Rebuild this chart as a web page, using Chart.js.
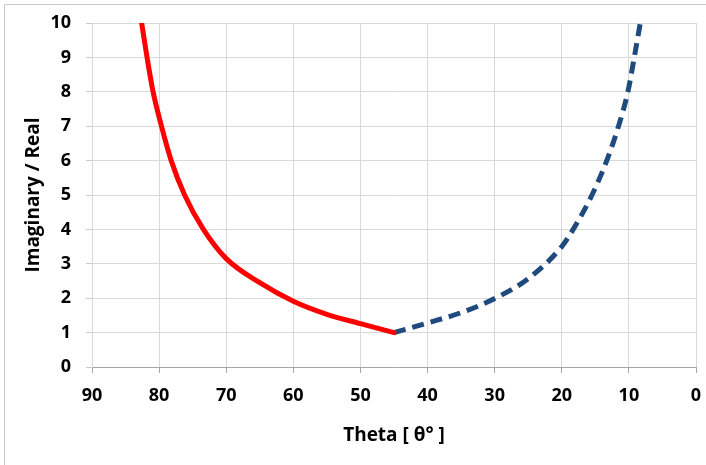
<!DOCTYPE html>
<html>
<head>
<meta charset="utf-8">
<script src="https://cdn.jsdelivr.net/npm/chart.js@4.4.1/dist/chart.umd.min.js"></script>
<style>
  html, body { margin: 0; padding: 0; background: #ffffff; }
  #wrap { width: 706px; height: 465px; position: relative; }
</style>
</head>
<body>
<div id="wrap"><canvas id="c" width="706" height="465"></canvas></div>
<script>
// Theta (degrees) and Imaginary/Real ratio
const redTheta  = [82.6, 81.8, 80.9, 79.65, 78.2, 76.2, 73.4, 70, 65, 60, 55, 50, 45];
const redRatio  = [10, 9, 8, 7, 6, 5, 4, 3.15, 2.45, 1.91, 1.53, 1.26, 1.0];
const blueTheta = [45, 40, 35, 30, 25, 20, 18.3, 15.5, 13.3, 11.55, 10.15, 9.2, 8.3];
const blueRatio = [1.0, 1.28, 1.58, 1.99, 2.57, 3.5, 4, 5, 6, 7, 8, 9, 10];
const xLabelValues = [90, 80, 70, 60, 50, 40, 30, 20, 10, 0];
const yLabelValues = [0, 1, 2, 3, 4, 5, 6, 7, 8, 9, 10];
const xTitle = 'Theta [ θ° ]';
const yTitle = 'Imaginary / Real';

const toPts = (xs, ys) => xs.map((x, i) => ({x: x, y: ys[i]}));

const frame = {
  id: 'frame',
  beforeDraw(chart) {
    const ctx = chart.ctx;
    ctx.save();
    ctx.fillStyle = '#ffffff';
    ctx.fillRect(0, 0, chart.width, chart.height);
    ctx.strokeStyle = '#c8c8c8';
    ctx.lineWidth = 1;
    ctx.beginPath();
    ctx.moveTo(4.5, chart.height);
    ctx.lineTo(4.5, 4.5);
    ctx.lineTo(chart.width, 4.5);
    ctx.stroke();
    ctx.restore();
  }
};

const fam = "'Open Sans', 'Liberation Sans', sans-serif";
const tickFont = { family: fam, size: 18, weight: '700' };
const titleFont = { family: fam, size: 19, weight: '700' };

new Chart(document.getElementById('c'), {
  type: 'scatter',
  data: {
    datasets: [
      {
        data: toPts(redTheta, redRatio),
        showLine: true,
        borderColor: '#ff0000',
        borderWidth: 5,
        pointRadius: 0,
        cubicInterpolationMode: 'monotone',
        borderCapStyle: 'round'
      },
      {
        data: toPts(blueTheta, blueRatio),
        showLine: true,
        borderColor: '#1f4a7e',
        borderWidth: 5,
        borderDash: [12, 7],
        pointRadius: 0,
        cubicInterpolationMode: 'monotone'
      }
    ]
  },
  options: {
    responsive: false,
    animation: false,
    devicePixelRatio: 1,
    layout: { padding: { top: 23, right: 10, left: 0, bottom: 0 } },
    plugins: { legend: { display: false }, tooltip: { enabled: false } },
    scales: {
      x: {
        type: 'linear',
        min: 0, max: 90, reverse: true,
        afterFit(s) { s.height = 98; s.paddingLeft = 0; s.paddingRight = 0; },
        ticks: {
          stepSize: 5, autoSkip: false, maxRotation: 0, padding: 12,
          color: '#000000', font: tickFont,
          callback: (v) => xLabelValues.includes(v) ? String(v) : null
        },
        grid: { color: '#d9d9d9', lineWidth: 1, tickLength: 6, tickColor: '#a6a6a6' },
        border: { color: '#a6a6a6', width: 1 },
        title: {
          display: true, text: xTitle, color: '#000000',
          font: titleFont, padding: { top: 0, bottom: 18 }
        }
      },
      y: {
        type: 'linear',
        min: 0, max: 10,
        afterFit(s) { s.width = 92; s.paddingTop = 0; s.paddingBottom = 0; },
        ticks: {
          stepSize: 1, padding: 15, color: '#000000', font: tickFont,
          callback: (v) => yLabelValues.includes(v) ? String(v) : null
        },
        grid: { color: '#d9d9d9', lineWidth: 1, tickLength: 6, tickColor: '#c8c8c8' },
        border: { color: '#d9d9d9', width: 1 },
        title: {
          display: true, text: yTitle, color: '#000000',
          font: titleFont, padding: { top: 22, bottom: 0 }
        }
      }
    }
  },
  plugins: [frame]
});
</script>
</body>
</html>
